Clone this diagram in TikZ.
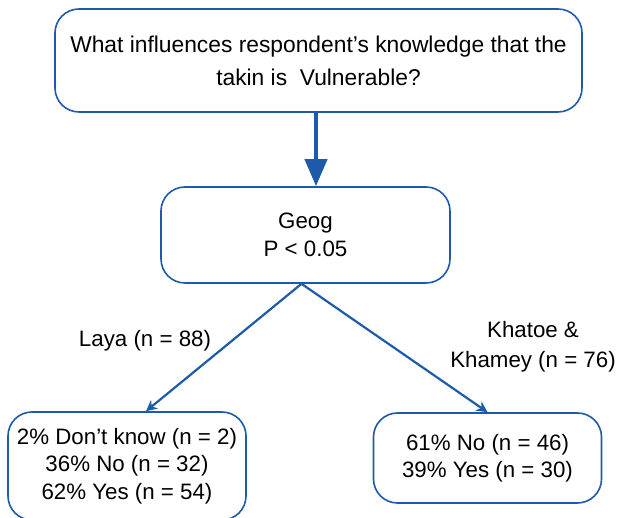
\documentclass[tikz,border=0pt]{standalone}
\usepackage{fontspec}
\setmainfont{Liberation Sans}
\usetikzlibrary{arrows.meta,calc}
\definecolor{bl}{RGB}{30,90,170}
\begin{document}
\begin{tikzpicture}[x=1pt,y=1pt,
  box/.style={draw=bl,line width=1.6pt,rounded corners=24pt,align=center,inner sep=0pt},
  conn/.style={draw=bl,line width=2.2pt,-{Stealth[length=11pt,width=11pt]}},
  lbl/.style={align=center,font=\fontsize{22.3}{30}\selectfont}]
\useasboundingbox (0,0) rectangle (620,518);
\node[box,minimum width=527pt,minimum height=103pt,font=\fontsize{22.8}{33}\selectfont] (top) at (318.5,457.5)
  {What influences respondent’s knowledge that the\\takin is\ \ Vulnerable?};
\node[box,minimum width=289pt,minimum height=96pt,font=\fontsize{22.3}{28}\selectfont] (geog) at (305.5,283)
  {Geog\\P < 0.05};
\node[box,minimum width=238pt,minimum height=108pt,font=\fontsize{22.3}{27.5}\selectfont] (lbox) at (127,52)
  {2\% Don’t know (n = 2)\\36\% No (n = 32)\\62\% Yes (n = 54)};
\node[box,minimum width=228pt,minimum height=90pt,font=\fontsize{22.3}{27}\selectfont] (rbox) at (487.5,60)
  {61\% No (n = 46)\\39\% Yes (n = 30)};
\coordinate (apex) at ($(geog.south)+(-4,0)$);
\coordinate (lend) at ($(lbox.north)+(19,0)$);
\coordinate (astart) at ($(top.south)+(-2.5,0)$);
\draw[draw=bl,line width=4pt,-{Triangle[length=27pt,width=22pt]}] (astart) -- (astart |- geog.north);
\draw[conn] (apex) -- (lend);
\draw[conn] (apex) -- (rbox.north);
\node[lbl] (laya) at (145,177) {Laya (n = 88)};
\node[lbl] (kk) at (533,171) {Khatoe \&\\Khamey (n = 76)};
\end{tikzpicture}
\end{document}
